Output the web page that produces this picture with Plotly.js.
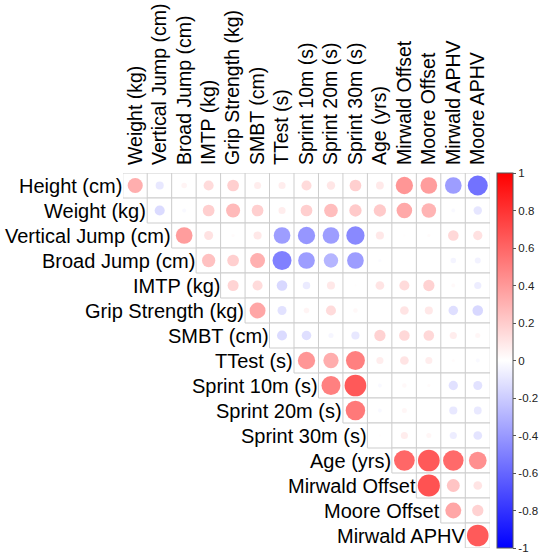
<!DOCTYPE html>
<html><head><meta charset="utf-8">
<script src="https://cdn.plot.ly/plotly-3.0.1.min.js"></script>
<style>html,body{margin:0;padding:0;background:#fff}#chart{width:550px;height:558px}</style>
</head><body><div id="chart"></div>
<script>
// Row variables (upper-triangle rows) and column variables
const rowLabels = ["Height (cm)","Weight (kg)","Vertical Jump (cm)","Broad Jump (cm)","IMTP (kg)","Grip Strength (kg)","SMBT (cm)","TTest (s)","Sprint 10m (s)","Sprint 20m (s)","Sprint 30m (s)","Age (yrs)","Mirwald Offset","Moore Offset","Mirwald APHV"];
const colLabels = ["Weight (kg)","Vertical Jump (cm)","Broad Jump (cm)","IMTP (kg)","Grip Strength (kg)","SMBT (cm)","TTest (s)","Sprint 10m (s)","Sprint 20m (s)","Sprint 30m (s)","Age (yrs)","Mirwald Offset","Moore Offset","Mirwald APHV","Moore APHV"];

// Correlations, each row starts at the column with the same index as the row
const rHeight   = [0.45, -0.13, 0.06, 0.20, 0.27, 0.10, 0.10, 0.20, 0.14, 0.27, 0.12, 0.59, 0.55, -0.55, -0.79];
const rWeight   = [-0.20, -0.03, 0.27, 0.39, 0.27, 0.10, 0.27, 0.37, 0.30, 0.30, 0.48, 0.42, -0.03, -0.14];
const rVJump    = [0.55, 0.16, 0.02, 0.13, -0.55, -0.59, -0.55, -0.66, 0.13, 0.01, 0.02, 0.22, 0.17];
const rBJump    = [0.35, 0.27, 0.44, -0.71, -0.55, -0.41, -0.55, -0.02, 0.00, 0.00, -0.06, -0.07];
const rIMTP     = [0.24, 0.20, -0.22, -0.11, 0.13, 0.01, 0.15, 0.20, 0.25, 0.03, -0.10];
const rGrip     = [0.50, -0.16, 0.06, 0.20, 0.04, 0.00, 0.15, 0.13, -0.18, -0.22];
const rSMBT     = [-0.20, -0.18, -0.05, -0.13, 0.25, 0.22, 0.22, 0.10, 0.05];
const rTTest    = [0.59, 0.46, 0.71, 0.10, 0.15, 0.10, 0.02, -0.03];
const rSprint10 = [0.71, 0.93, -0.03, 0.04, 0.02, -0.17, -0.16];
const rSprint20 = [0.75, -0.03, 0.05, 0.00, -0.13, -0.12];
const rSprint30 = [0.01, 0.10, 0.05, -0.10, -0.15];
const rAge      = [0.85, 0.93, 0.83, 0.62];
const rMirOff   = [0.97, 0.33, 0.15];
const rMooreOff = [0.50, 0.25];
const rMirAPHV  = [0.92];
const colorbarTicks = [-1,-0.8,-0.6,-0.4,-0.2,0,0.2,0.4,0.6,0.8,1];

const rows = [rHeight,rWeight,rVJump,rBJump,rIMTP,rGrip,rSMBT,rTTest,rSprint10,rSprint20,rSprint30,rAge,rMirOff,rMooreOff,rMirAPHV];

const CELL = 25;
const FONT = 'Liberation Sans, Arial, sans-serif';
const cx=[], cy=[], cv=[], cs=[];
rows.forEach((vals,i)=>{
  vals.forEach((v,k)=>{
    cx.push(i+k); cy.push(i); cv.push(v);
    cs.push(0.9*Math.sqrt(Math.abs(v))*CELL);
  });
});

const gridTrace = {
  type:'scatter', mode:'markers', x:cx, y:cy, hoverinfo:'skip', showlegend:false,
  marker:{symbol:'square', size:CELL, color:'#ffffff', line:{color:'#cdcdcd', width:1}}
};
const circleTrace = {
  type:'scatter', mode:'markers', x:cx, y:cy, showlegend:false,
  marker:{symbol:'circle', size:cs, color:cv, cmin:-1, cmax:1,
    colorscale:[[0,'#0000FF'],[0.5,'#FFFFFF'],[1,'#FF0000']],
    line:{width:0},
    showscale:true,
    colorbar:{x:1.0187, xanchor:'left', xpad:0, ypad:0, y:0.5, yanchor:'middle', len:1, lenmode:'fraction',
      thickness:16, outlinecolor:'#555555', outlinewidth:1,
      tickvals:colorbarTicks, ticktext:colorbarTicks.map(String), ticks:'outside', ticklen:3, tickcolor:'#555',
      tickfont:{family:FONT, size:11.5, color:'#222'}}
  }
};

const annotations = rowLabels.map((t,i)=>({
  x:i-0.5, y:i, xref:'x', yref:'y', text:t, showarrow:false,
  xanchor:'right', yanchor:'middle', xshift:1,
  font:{family:FONT, size:20, color:'#000'}
}));

const layout = {
  width:550, height:558,
  margin:{l:123, r:52, t:173, b:10, pad:0},
  paper_bgcolor:'#fff', plot_bgcolor:'#fff',
  xaxis:{range:[-0.5,14.5], side:'top', showgrid:false, zeroline:false, showline:false, ticks:'',
    tickvals:colLabels.map((_,j)=>j), ticktext:colLabels, tickangle:-90, fixedrange:true, ticklabelstandoff:7,
    tickfont:{family:FONT, size:19.5, color:'#000'}},
  yaxis:{range:[14.5,-0.5], showgrid:false, zeroline:false, showline:false, ticks:'', showticklabels:false, fixedrange:true},
  annotations:annotations
};

Plotly.newPlot('chart',[gridTrace, circleTrace], layout, {displayModeBar:false, staticPlot:true});
</script>
</body></html>
